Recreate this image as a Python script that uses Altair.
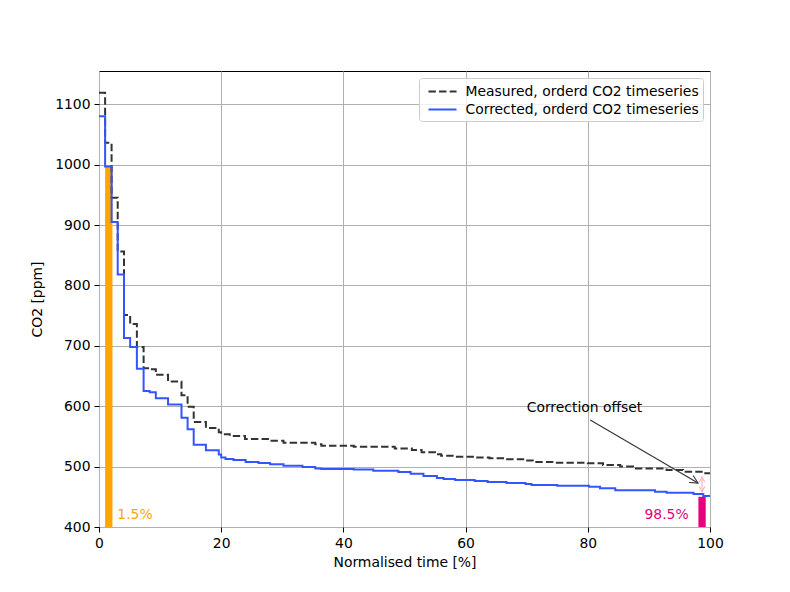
import math
import altair as alt
import pandas as pd

# ---------------- data ----------------
measured_label = "Measured, orderd CO2 timeseries"
corrected_label = "Corrected, orderd CO2 timeseries"

measured_x = [0, 1.0, 2.06, 3.06, 4.09, 5.1, 6.2, 7.3, 8.3, 9.3,
              11.3, 13.5, 14.5, 15.5, 17.5, 19.6, 20.0, 21.4, 23.9, 28.0,
              30.2, 35.4, 36.4, 41.7, 48.4, 51.2, 52.8, 55.0, 56.0, 58.3,
              61.5, 63.9, 66.4, 69.7, 71.0, 74.6, 80.0, 82.5, 85.3, 87.4,
              92.9, 95.6, 98.9, 100]
measured_y = [1119, 1036, 945, 856, 751, 736, 698, 663, 661, 652,
              641, 618, 599, 574, 564, 557, 553.5, 550.7, 545.7, 543,
              539.6, 537, 534.6, 533, 530, 527.5, 523.6, 520.3, 518, 516.5,
              515, 513.7, 512, 510, 507.6, 506.5, 505.4, 502.6, 500, 497,
              494.4, 491.6, 489, 489]

corrected_x = [0, 1.0, 2.06, 3.06, 4.09, 5.1, 6.2, 7.3, 8.3, 9.3,
               11.3, 13.5, 14.5, 15.5, 17.5, 19.6, 20.0, 20.7, 22.0, 24.0,
               26.1, 28.0, 30.2, 33.3, 35.4, 36.4, 41.7, 44.9, 49.0, 51.0,
               53.1, 55.3, 56.4, 58.3, 61.5, 63.6, 66.7, 69.8, 70.8, 75.0,
               80.2, 82.0, 84.5, 91.0, 92.9, 97.3, 98.9, 100]
corrected_y = [1080, 997, 905, 818, 713, 698, 662, 625, 623, 613,
               603, 581, 562, 536, 527, 520, 515, 512.5, 511, 507.5,
               506, 504, 501.5, 499.5, 497, 496, 495, 493, 491, 488,
               484.5, 481, 479.5, 478, 476, 474.5, 473, 471, 469.5, 468.4,
               466.7, 464, 461, 458.5, 456.8, 454.6, 451.5, 451.5]

# percentile bars
bar_x = [1.0, 98.1]
bar_x2 = [2.2, 99.3]
bar_top = [997, 450]
bar_bottom = [400, 400]
bar_colors = ["#ffa500", "#e6007e"]

# percentile labels
pct_text = ["1.5%", "98.5%"]
pct_x = [3.0, 96.5]
pct_y = [413, 413]
pct_align = ["left", "right"]

# annotation
note_text = ["Correction offset"]
note_x = [70]
note_y = [590]
arrow_x = [80.4]
arrow_y = [577]
arrow_tip_x = [98.04]
arrow_tip_y = [472.8]

# offset arrow (double headed)
offset_x = [98.7]
offset_y_low = [458]
offset_y_high = [483]

x_ticks = [0, 20, 40, 60, 80, 100]
y_ticks = [400, 500, 600, 700, 800, 900, 1000, 1100]

# ---------------- layout ----------------
W, H = 611, 456
X_DOM = [0, 100]
Y_DOM = [400, 1155]
FONT = "DejaVu Sans"
FS = 13.9

xs = alt.Scale(domain=X_DOM, nice=False, zero=False)
ys = alt.Scale(domain=Y_DOM, nice=False, zero=False)

lines = pd.DataFrame(
    {"series": [measured_label] * len(measured_x) + [corrected_label] * len(corrected_x),
     "x": measured_x + corrected_x,
     "y": measured_y + corrected_y}
)

bars = pd.DataFrame({"x": bar_x, "x2": bar_x2, "y": bar_bottom, "y2": bar_top})
pcts = pd.DataFrame({"t": pct_text, "x": pct_x, "y": pct_y})
note = pd.DataFrame({"t": note_text, "x": note_x, "y": note_y})
arrow = pd.DataFrame({"x": arrow_x, "y": arrow_y, "x2": arrow_tip_x, "y2": arrow_tip_y})
offs = pd.DataFrame({"x": offset_x, "y": offset_y_low, "y2": offset_y_high})

# arrow head rotation from geometry
dx_px = (arrow_tip_x[0] - arrow_x[0]) * W / (X_DOM[1] - X_DOM[0])
dy_px = -(arrow_tip_y[0] - arrow_y[0]) * H / (Y_DOM[1] - Y_DOM[0])
head_angle = math.degrees(math.atan2(dx_px, -dy_px)) % 360
arrow_head = pd.DataFrame({"x": arrow_tip_x, "y": arrow_tip_y})
offs_heads = pd.DataFrame({"x": offset_x * 2, "y": [offset_y_high[0], offset_y_low[0]], "ang": [0, 180]})

HEAD = "M-0.5,1L0,0L0.5,1"

x_axis = alt.Axis(values=x_ticks, title="Normalised time [%]", format="d")
y_axis = alt.Axis(values=y_ticks, title="CO2 [ppm]", format="d")

bar_layers = []
for i in range(len(bar_x)):
    bar_layers.append(
        alt.Chart(bars.iloc[[i]]).mark_rect(color=bar_colors[i]).encode(
            x=alt.X("x:Q", scale=xs, axis=x_axis),
            x2="x2:Q",
            y=alt.Y("y:Q", scale=ys, axis=y_axis),
            y2="y2:Q",
        )
    )

line_layer = alt.Chart(lines).mark_line(interpolate="step-after", strokeWidth=2, clip=True).encode(
    x=alt.X("x:Q", scale=xs),
    y=alt.Y("y:Q", scale=ys),
    color=alt.Color("series:N",
                    scale=alt.Scale(domain=[measured_label, corrected_label],
                                    range=["#333333", "#3355ff"]),
                    legend=alt.Legend(title=None)),
    strokeDash=alt.StrokeDash("series:N",
                              scale=alt.Scale(domain=[measured_label, corrected_label],
                                              range=[[7.4, 3.2], [1, 0]]),
                              legend=alt.Legend(title=None)),
    order=alt.Order("x:Q"),
)

pct_layers = []
for i in range(len(pct_text)):
    pct_layers.append(
        alt.Chart(pcts.iloc[[i]]).mark_text(
            font=FONT, fontSize=FS, align=pct_align[i], baseline="alphabetic", color=bar_colors[i]
        ).encode(x=alt.X("x:Q", scale=xs), y=alt.Y("y:Q", scale=ys), text="t:N")
    )

note_layer = alt.Chart(note).mark_text(
    font=FONT, fontSize=FS, align="left", baseline="alphabetic", color="black"
).encode(x=alt.X("x:Q", scale=xs), y=alt.Y("y:Q", scale=ys), text="t:N")

arrow_layer = alt.Chart(arrow).mark_rule(color="#333333", strokeWidth=1.1).encode(
    x=alt.X("x:Q", scale=xs), y=alt.Y("y:Q", scale=ys), x2="x2:Q", y2="y2:Q"
)
arrow_head_layer = alt.Chart(arrow_head).mark_point(
    shape=HEAD, size=256, filled=False, color="#333333", strokeWidth=1.1, angle=head_angle, opacity=1
).encode(x=alt.X("x:Q", scale=xs), y=alt.Y("y:Q", scale=ys))

offs_layer = alt.Chart(offs).mark_rule(color="#ffb0c0", strokeWidth=1.1).encode(
    x=alt.X("x:Q", scale=xs), y=alt.Y("y:Q", scale=ys), y2="y2:Q"
)
offs_head_layer = alt.Chart(offs_heads).mark_point(
    shape=HEAD, size=120, filled=False, color="#ffb0c0", strokeWidth=1.1, opacity=1
).encode(x=alt.X("x:Q", scale=xs), y=alt.Y("y:Q", scale=ys),
         angle=alt.Angle("ang:Q", scale=None))

chart = alt.layer(
    *bar_layers, line_layer, *pct_layers, note_layer,
    arrow_layer, arrow_head_layer, offs_layer, offs_head_layer
).properties(
    width=W, height=H,
    autosize=alt.AutoSizeParams(type="none"),
    padding={"left": 91, "top": 63, "right": 60, "bottom": 50},
    background="white",
).configure_view(
    stroke="black", strokeWidth=1
).configure_axis(
    grid=True, gridColor="#b0b0b0", gridWidth=1,
    domain=False,
    ticks=True, tickColor="black", tickSize=5, tickWidth=1,
    labelFont=FONT, labelFontSize=FS, labelColor="black", labelPadding=4,
    titleFont=FONT, titleFontSize=FS, titleColor="black", titleFontWeight="normal",
).configure_axisX(
    titlePadding=6, labelFlush=False
).configure_axisY(
    titlePadding=10
).configure_legend(
    orient="top-right", offset=7,
    labelFont=FONT, labelFontSize=FS, labelColor="black",
    symbolType="M-1.65,0L1.65,0", symbolSize=289, symbolStrokeWidth=2,
    fillColor="rgba(255,255,255,0.8)", strokeColor="#cccccc", cornerRadius=3,
    padding=4, rowPadding=1, labelOffset=13.5, symbolOffset=10,
    labelLimit=400,
)

chart.save("out.html", embed_options={"renderer": "svg", "actions": False})
